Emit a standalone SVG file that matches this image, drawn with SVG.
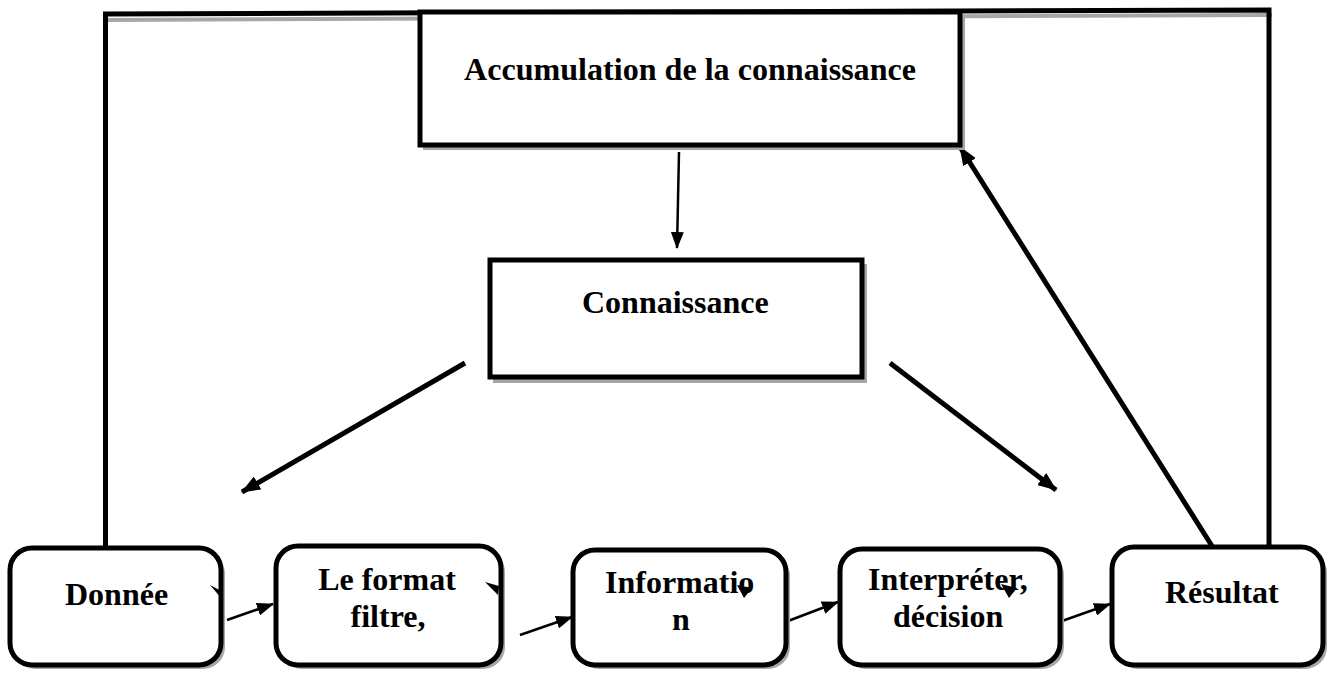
<svg xmlns="http://www.w3.org/2000/svg" width="1333" height="675" viewBox="0 0 1333 675">
  <style>
    .lbl { font-family: "Liberation Serif", "Times New Roman", serif; font-weight: bold; font-size: 32px; fill: #000; }
    .box { fill: #fff; stroke: #000; stroke-width: 5; }
    .shadow { fill: #a6a6a6; }
    .thin { fill: none; stroke: #000; stroke-width: 2.5; }
    .thick { fill: none; stroke: #000; stroke-width: 5; }
    .frame { fill: none; stroke: #000; stroke-width: 5; stroke-linejoin: miter; }
    .tick { fill: #000; }
  </style>
  <defs>
    <marker id="head" markerUnits="userSpaceOnUse" markerWidth="17" markerHeight="13" refX="16" refY="6.5" orient="auto">
      <path d="M0,0 L17,6.5 L0,13 Z" fill="#000"/>
    </marker>
    <marker id="headBig" markerUnits="userSpaceOnUse" markerWidth="19" markerHeight="15" refX="18" refY="7.5" orient="auto">
      <path d="M0,0 L19,7.5 L0,15 Z" fill="#000"/>
    </marker>
  </defs>

  <rect width="1333" height="675" fill="#fff"/>

  <!-- connectors -->
  <g id="connectors">
    <!-- feedback frame: Donnée up to the top, across, down to Résultat -->
    <path d="M106,20 L1272,15" stroke="#a6a6a6" stroke-width="4" fill="none"/>
    <path class="frame" d="M105.5,547 L105.5,14 L1269,10 L1269,547"/>
    <!-- Accumulation -> Connaissance -->
    <path class="thin" d="M679,152 L677,248" marker-end="url(#head)"/>
    <!-- Connaissance -> left / right -->
    <path class="thick" d="M465,363 L242,492" marker-end="url(#headBig)"/>
    <path class="thick" d="M890,363 L1056,490" marker-end="url(#headBig)"/>
    <!-- Résultat -> Accumulation -->
    <path class="thick" d="M1212,546 L960,147" marker-end="url(#headBig)"/>
    <!-- chain along the bottom -->
    <path class="thin" d="M227,620 L273,604" marker-end="url(#head)"/>
    <path class="thin" d="M520,635 L572,617" marker-end="url(#head)"/>
    <path class="thin" d="M788,621 L838,602" marker-end="url(#head)"/>
    <path class="thin" d="M1062,621 L1110,604" marker-end="url(#head)"/>
  </g>

  <g id="accumulation">
    <rect class="shadow" x="423" y="16" width="542" height="134"/>
    <rect class="box" x="420" y="12" width="540" height="133"/>
    <text class="lbl" x="464" y="80" textLength="452" lengthAdjust="spacingAndGlyphs">Accumulation de la connaissance</text>
  </g>

  <g id="connaissance">
    <rect class="shadow" x="493" y="264" width="374" height="119"/>
    <rect class="box" x="490" y="260" width="372" height="117"/>
    <text class="lbl" x="582" y="313">Connaissance</text>
  </g>

  <g id="donnee">
    <rect class="shadow" x="14" y="552" width="211" height="117" rx="22"/>
    <rect class="box" x="10" y="548" width="211" height="117" rx="22"/>
    <text class="lbl" x="65" y="605">Donnée</text>
  </g>

  <g id="format">
    <rect class="shadow" x="280" y="550" width="225" height="119" rx="22"/>
    <rect class="box" x="276" y="546" width="225" height="119" rx="22"/>
    <text class="lbl" x="387" y="590" text-anchor="middle">Le format</text>
    <text class="lbl" x="388" y="627" text-anchor="middle">filtre,</text>
  </g>

  <g id="information">
    <rect class="shadow" x="577" y="554" width="213" height="115" rx="22"/>
    <rect class="box" x="573" y="550" width="213" height="115" rx="22"/>
    <text class="lbl" x="605" y="593">Informatio</text>
    <text class="lbl" x="681" y="630" text-anchor="middle">n</text>
  </g>

  <g id="interpreter">
    <rect class="shadow" x="844" y="553" width="220" height="116" rx="22"/>
    <rect class="box" x="840" y="549" width="220" height="116" rx="22"/>
    <text class="lbl" x="868" y="590">Interpréter,</text>
    <text class="lbl" x="893" y="627">décision</text>
  </g>

  <g id="resultat">
    <rect class="shadow" x="1116" y="551" width="211" height="118" rx="22"/>
    <rect class="box" x="1112" y="547" width="211" height="118" rx="22"/>
    <text class="lbl" x="1165" y="603">Résultat</text>
  </g>

  <!-- short arrow tips lying over the box outlines and labels -->
  <g id="tips">
    <path class="tick" d="M210,585 L223,592 L222,599 Z"/>
    <path class="tick" d="M485,582 L499,586 L498,595 Z"/>
    <path class="tick" d="M737,585 L752,588 L744,598 Z"/>
    <path class="tick" d="M1001,584 L1017,588 L1009,598 Z"/>
  </g>
</svg>
